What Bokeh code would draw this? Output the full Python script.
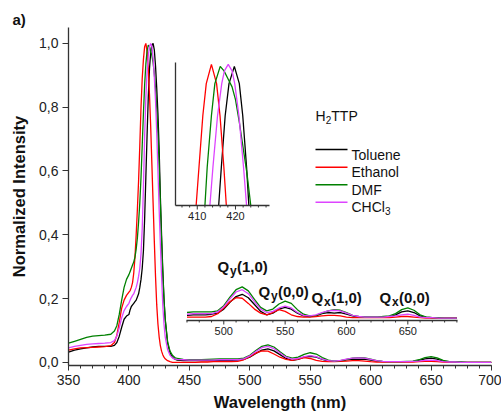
from bokeh.plotting import figure
from bokeh.models import (ColumnDataSource, Range1d, FixedTicker,
                          CustomJSTickFormatter, Label)
from bokeh.core.properties import value
from bokeh.embed import file_html
from bokeh.resources import INLINE

FONT = "Liberation Sans"

# ---------------- data ----------------
wavelength = [350, 355, 360, 365, 370, 375, 380, 385, 388, 390, 392, 394, 396, 398,
              400, 401, 402, 403, 404, 405, 406, 407, 408, 409, 410, 411, 412, 413, 414,
              415, 416, 417, 418, 419, 420, 421, 422, 423, 424, 425, 426, 427, 428, 429, 430,
              432, 434, 436, 438, 440,
              445, 450, 455, 460, 465, 470, 475, 480, 485, 490,
              495, 500, 505, 510, 515, 520, 525, 530, 535, 540,
              545, 550, 555, 560, 565, 570, 575, 580, 585, 590,
              595, 600, 605, 610, 615, 620, 625, 630, 635, 640,
              645, 650, 655, 660, 665, 670, 675, 680, 685, 690,
              695, 700]

toluene = [0.032, 0.038, 0.042, 0.045, 0.048, 0.050, 0.050, 0.050, 0.053, 0.062, 0.082, 0.110, 0.135, 0.145,
           0.150, 0.165, 0.175, 0.180, 0.185, 0.190, 0.195, 0.205, 0.215, 0.235, 0.260, 0.295, 0.350, 0.450, 0.580,
           0.710, 0.830, 0.920, 0.970, 0.995, 1.000, 0.980, 0.930, 0.860, 0.780, 0.670, 0.520, 0.400, 0.290, 0.200, 0.135,
           0.060, 0.030, 0.016, 0.010, 0.007,
           0.005, 0.005, 0.005, 0.005, 0.005, 0.005, 0.006, 0.006, 0.006, 0.007,
           0.009, 0.016, 0.028, 0.038, 0.042, 0.036, 0.024, 0.012, 0.006, 0.009,
           0.016, 0.019, 0.016, 0.009, 0.004, 0.003, 0.004, 0.008, 0.010, 0.009,
           0.010, 0.007, 0.004, 0.002, 0.002, 0.002, 0.002, 0.002, 0.003, 0.006,
           0.011, 0.013, 0.010, 0.004, 0.002, 0.001, 0.000, 0.000, 0.000, 0.000,
           0.000, 0.000]

ethanol = [0.038, 0.042, 0.045, 0.046, 0.047, 0.048, 0.049, 0.052, 0.062, 0.085, 0.125, 0.170, 0.195, 0.210,
           0.220, 0.225, 0.235, 0.250, 0.280, 0.330, 0.400, 0.480, 0.570, 0.680, 0.800, 0.890, 0.950, 0.990, 1.000,
           0.975, 0.920, 0.840, 0.740, 0.620, 0.500, 0.380, 0.270, 0.180, 0.120, 0.080, 0.052, 0.035, 0.024, 0.016, 0.011,
           0.005, 0.002, 0.000, 0.000, 0.000,
           0.000, 0.000, 0.000, 0.001, 0.001, 0.002, 0.002, 0.002, 0.002, 0.003,
           0.008, 0.018, 0.029, 0.036, 0.035, 0.026, 0.016, 0.009, 0.006, 0.010,
           0.015, 0.012, 0.006, 0.003, 0.002, 0.002, 0.003, 0.004, 0.005, 0.005,
           0.004, 0.002, 0.001, 0.001, 0.001, 0.001, 0.001, 0.001, 0.001, 0.002,
           0.003, 0.003, 0.002, 0.001, 0.000, 0.000, 0.000, 0.000, 0.000, 0.000,
           0.000, 0.000]

dmf = [0.060, 0.066, 0.072, 0.078, 0.082, 0.084, 0.085, 0.088, 0.098, 0.115, 0.150, 0.195, 0.235, 0.260,
       0.275, 0.285, 0.295, 0.305, 0.315, 0.330, 0.355, 0.390, 0.440, 0.500, 0.580, 0.680, 0.780, 0.870, 0.935,
       0.975, 0.995, 0.990, 0.975, 0.962, 0.940, 0.905, 0.860, 0.800, 0.720, 0.620, 0.500, 0.380, 0.280, 0.195, 0.135,
       0.065, 0.035, 0.022, 0.015, 0.012,
       0.009, 0.008, 0.008, 0.008, 0.009, 0.010, 0.011, 0.011, 0.011, 0.011,
       0.013, 0.022, 0.037, 0.050, 0.055, 0.048, 0.033, 0.019, 0.013, 0.016,
       0.025, 0.030, 0.026, 0.015, 0.007, 0.004, 0.005, 0.009, 0.013, 0.015,
       0.014, 0.010, 0.005, 0.003, 0.002, 0.002, 0.002, 0.003, 0.004, 0.008,
       0.015, 0.018, 0.014, 0.006, 0.002, 0.001, 0.001, 0.000, 0.000, 0.000,
       0.000, 0.000]

chcl3 = [0.045, 0.050, 0.053, 0.056, 0.058, 0.059, 0.060, 0.062, 0.068, 0.082, 0.108, 0.140, 0.162, 0.175,
         0.185, 0.195, 0.203, 0.210, 0.215, 0.225, 0.235, 0.250, 0.270, 0.295, 0.340, 0.420, 0.550, 0.710, 0.830,
         0.910, 0.960, 0.990, 1.000, 0.990, 0.955, 0.895, 0.820, 0.720, 0.600, 0.480, 0.370, 0.270, 0.180, 0.120, 0.080,
         0.040, 0.022, 0.014, 0.010, 0.009,
         0.008, 0.007, 0.007, 0.007, 0.007, 0.007, 0.008, 0.008, 0.008, 0.008,
         0.011, 0.020, 0.034, 0.046, 0.050, 0.043, 0.029, 0.016, 0.010, 0.012,
         0.018, 0.021, 0.018, 0.010, 0.005, 0.004, 0.006, 0.010, 0.013, 0.014,
         0.013, 0.009, 0.005, 0.003, 0.002, 0.002, 0.002, 0.002, 0.003, 0.004,
         0.006, 0.007, 0.005, 0.002, 0.001, 0.001, 0.000, 0.000, 0.000, 0.000,
         0.000, 0.000]

# Inset 1: top of the Soret band
inset1_toluene_wl = [415.6, 416.3, 417.3, 418.3, 419.7, 421.0, 421.9, 422.9, 423.5]
inset1_toluene = [0.78, 0.84, 0.92, 0.97, 0.997, 0.97, 0.92, 0.84, 0.78]
inset1_ethanol_wl = [409.7, 410.45, 411.45, 412.35, 413.7, 415.05, 415.95, 416.95, 417.6]
inset1_ethanol = [0.78, 0.84, 0.92, 0.97, 1.0, 0.97, 0.92, 0.84, 0.78]
inset1_dmf_wl = [412.0, 412.6, 413.7, 414.6, 416.0, 417.0, 418.0, 419.1, 420.0, 421.0, 422.0, 423.0, 424.0]
inset1_dmf = [0.78, 0.84, 0.92, 0.97, 0.997, 0.99, 0.978, 0.965, 0.945, 0.91, 0.87, 0.83, 0.78]
inset1_chcl3_wl = [413.3, 414.1, 415.3, 416.4, 417.1, 418.1, 419.1, 419.8, 420.9, 422.1, 422.9]
inset1_chcl3 = [0.78, 0.84, 0.92, 0.97, 0.99, 1.0, 0.99, 0.97, 0.92, 0.84, 0.78]

series_keys = ["toluene", "ethanol", "dmf", "chcl3"]
series_labels = ["Toluene", "Ethanol", "DMF", "CHCl"]   # CHCl + subscript 3
series_colors = ["#000000", "#ff0000", "#008000", "#dd44ff"]

x_ticks = [350, 400, 450, 500, 550, 600, 650, 700]
x_minor_ticks = [350, 360, 370, 380, 390, 400, 410, 420, 430, 440, 450, 460, 470, 480, 490,
                 500, 510, 520, 530, 540, 550, 560, 570, 580, 590, 600, 610, 620, 630, 640,
                 650, 660, 670, 680, 690, 700]
y_ticks = [0.0, 0.2, 0.4, 0.6, 0.8, 1.0]
inset1_ticks = [410, 420]
inset1_minor = [406, 408, 412, 414, 416, 418, 422, 424, 426, 428]
inset2_ticks = [500, 550, 600, 650]
inset2_minor = [470, 480, 490, 510, 520, 530, 540, 560, 570, 580, 590,
                610, 620, 630, 640, 660, 670, 680, 690]

source = ColumnDataSource(dict(wl=wavelength, toluene=toluene, ethanol=ethanol,
                               dmf=dmf, chcl3=chcl3))

# ---------------- main figure ----------------
FL, FT, FW, FH = 68, 27, 423, 338
XR = (350, 700)
YR = (-0.01, 1.05)

p = figure(frame_width=FW, frame_height=FH, x_range=Range1d(*XR), y_range=Range1d(*YR),
           output_backend="svg", toolbar_location=None,
           min_border_left=FL, min_border_top=FT, min_border_right=10, min_border_bottom=49)

for key, col in zip(series_keys, series_colors):
    p.line("wl", key, source=source, line_color=col, line_width=1.3)

AXC = "#333333"
def style_axis(ax, font_size, tick_out, minor_out, standoff):
    ax.axis_line_color = AXC
    ax.axis_line_width = 1.3
    ax.major_tick_line_color = AXC
    ax.minor_tick_line_color = AXC
    ax.major_tick_in = 0
    ax.minor_tick_in = 0
    ax.major_tick_out = tick_out
    ax.minor_tick_out = minor_out
    ax.major_label_text_font = FONT
    ax.major_label_text_font_size = font_size
    ax.major_label_text_color = "#222222"
    ax.major_label_standoff = standoff

p.xaxis.ticker = FixedTicker(ticks=x_ticks, minor_ticks=x_minor_ticks)
p.yaxis.ticker = FixedTicker(ticks=y_ticks)
p.yaxis.formatter = CustomJSTickFormatter(code="return tick.toFixed(1).replace('.', ',');")
style_axis(p.xaxis[0], "14px", 5, 3, 4)
style_axis(p.yaxis[0], "14px", 6, 0, 4)
p.xaxis.axis_label = "Wavelength (nm)"
p.yaxis.axis_label = "Normalized Intensity"
for ax in (p.xaxis[0], p.yaxis[0]):
    ax.axis_label_text_font = FONT
    ax.axis_label_text_font_style = "bold"
    ax.axis_label_text_font_size = "16.5px"
    ax.axis_label_text_color = "#111111"
p.xaxis.axis_label_standoff = 5
p.yaxis.axis_label_standoff = 8
p.xgrid.visible = False
p.ygrid.visible = False
p.outline_line_color = None

# panel tag "a)" as the title, pulled to the left edge
p.title.text = "a)"
p.title.align = "left"
p.title.offset = -56
p.title.standoff = 0
p.title.text_font = FONT
p.title.text_font_size = "15px"
p.title.text_font_style = "bold"
p.title.text_color = "#111111"

def dx(px):
    return XR[0] + (px - FL) / FW * (XR[1] - XR[0])

def dy(py):
    return YR[0] + (FT + FH - py) / FH * (YR[1] - YR[0])

def add_text(px, py, text, size, bold=False, align="left", baseline="alphabetic"):
    p.add_layout(Label(x=dx(px), y=dy(py), text=text, text_font=FONT,
                       text_font_size=f"{size}px",
                       text_font_style="bold" if bold else "normal",
                       text_align=align, text_baseline=baseline, text_color="#111111"))

# band labels: (main, subscript, rest, left px, baseline px)
band_labels = [("Q", "y", "(1,0)", 217, 266), ("Q", "y", "(0,0)", 258, 291),
               ("Q", "x", "(1,0)", 311, 297), ("Q", "x", "(0,0)", 379, 297)]
for main, sub, rest, bx, by in band_labels:
    add_text(bx, by, main, 15, bold=True)
    add_text(bx + 12.5, by + 4, sub, 12, bold=True)
    add_text(bx + 19.5, by, rest, 15, bold=True)

# legend header H2TTP
add_text(315, 115, "H", 14)
add_text(325.3, 119, "2", 10)
add_text(330.8, 115, "TTP", 14)

legend_rows = [149, 166.7, 184.2, 201.7]
leg = ColumnDataSource(dict(x0=[dx(315)] * 4, x1=[dx(347)] * 4,
                            y=[dy(r) for r in legend_rows], c=series_colors))
p.segment(x0="x0", y0="y", x1="x1", y1="y", line_color="c", line_width=1.6, source=leg)
for lab, r in zip(series_labels, legend_rows):
    add_text(351, r + 5, lab, 14)
add_text(384.6, legend_rows[3] + 9, "3", 10)

# ---------------- insets drawn through sub-coordinates ----------------
def draw_inset(xr, yr, box, ticks, minor, lines, draw_yaxis, tick_len, label_off):
    left, right, top, bottom = box
    sub = p.subplot(x_source=Range1d(*xr), y_source=Range1d(*yr),
                    x_target=Range1d(dx(left), dx(right)),
                    y_target=Range1d(dy(bottom), dy(top)))
    for xs, ys, col in lines:
        sub.line(x=xs, y=ys, line_color=col, line_width=1.3)
    per_px = (yr[1] - yr[0]) / (bottom - top)
    y0 = yr[0]
    sub.segment(x0=[xr[0]], y0=[y0], x1=[xr[1]], y1=[y0], line_color=AXC, line_width=1.3)
    if draw_yaxis:
        sub.segment(x0=[xr[0]], y0=[y0], x1=[xr[0]], y1=[yr[1]], line_color=AXC, line_width=1.3)
    sub.segment(x0=ticks, y0=[y0] * len(ticks), x1=ticks,
                y1=[y0 - tick_len * per_px] * len(ticks), line_color=AXC, line_width=1)
    sub.segment(x0=minor, y0=[y0] * len(minor), x1=minor,
                y1=[y0 - 2 * per_px] * len(minor), line_color=AXC, line_width=1)
    sub.text(x=ticks, y=[y0] * len(ticks), text=[str(t) for t in ticks],
             text_font=value(FONT), text_font_size="11px", text_color="#222222",
             text_align="center", text_baseline="top", y_offset=label_off)

IN1_X, IN1_Y = (404.3, 428.9), (0.78, 1.003)
inset1_lines = [(inset1_toluene_wl, inset1_toluene, series_colors[0]),
                (inset1_ethanol_wl, inset1_ethanol, series_colors[1]),
                (inset1_dmf_wl, inset1_dmf, series_colors[2]),
                (inset1_chcl3_wl, inset1_chcl3, series_colors[3])]
draw_inset(IN1_X, IN1_Y, (175, 269, 62, 205), inset1_ticks, inset1_minor,
           inset1_lines, True, 4, 6)

IN2_X, IN2_Y = (469.6, 690.5), (-0.004, 0.0837)
keep = [i for i, w in enumerate(wavelength) if 470 <= w <= 690]
q_wl = [wavelength[i] for i in keep]
inset2_lines = [(q_wl, [vals[i] for i in keep], col)
                for vals, col in zip([toluene, ethanol, dmf, chcl3], series_colors)]
draw_inset(IN2_X, IN2_Y, (186, 457, 270, 320), inset2_ticks, inset2_minor,
           inset2_lines, False, 4, 6)

open("out.html", "w").write(file_html(p, INLINE))
